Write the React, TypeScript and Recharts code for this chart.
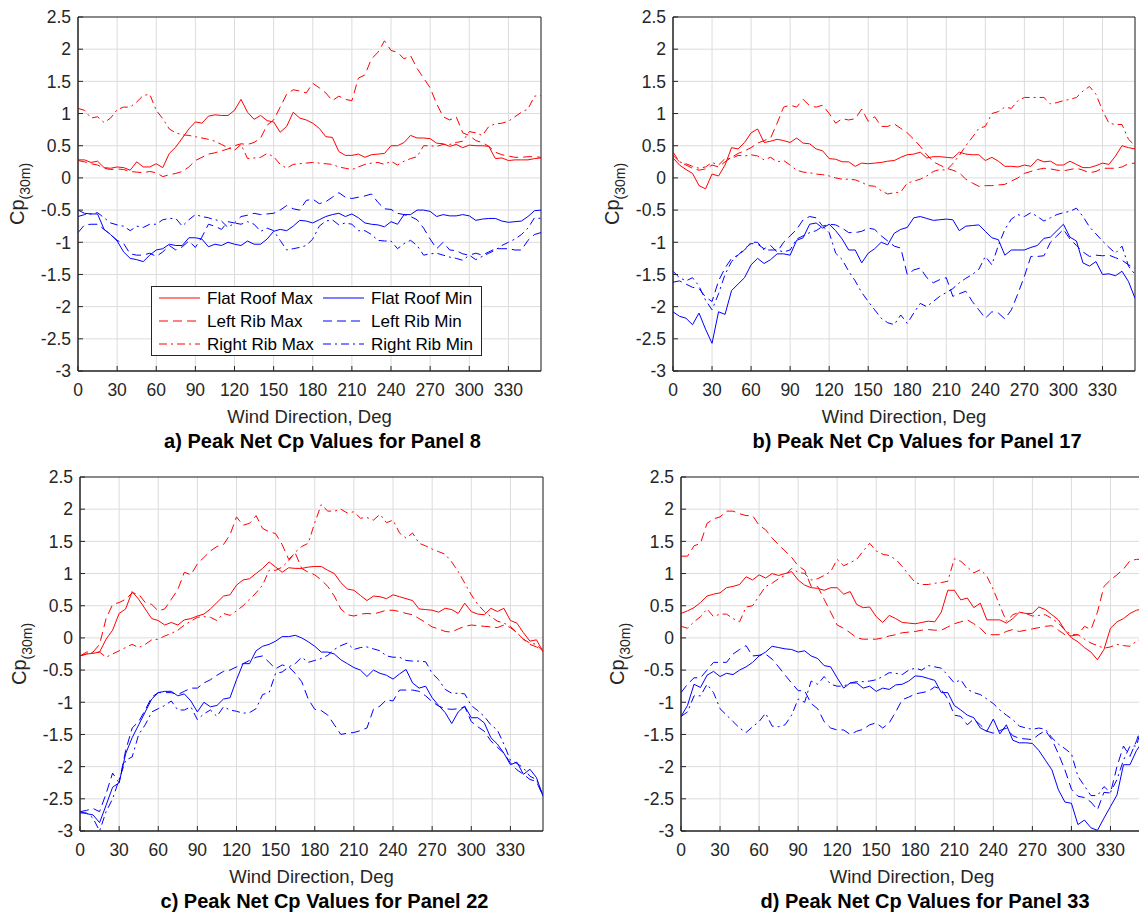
import React from 'react';
import { CartesianGrid, Line, LineChart, ReferenceArea, XAxis, YAxis } from 'recharts';

// wind directions, deg
const angles = [
	0, 5, 10, 15, 20, 25, 30, 35, 40, 45, 50, 55, 60, 65, 70, 75, 80, 85, 90, 95, 100, 105, 110, 115, 120, 125, 130,
	135, 140, 145, 150, 155, 160, 165, 170, 175, 180, 185, 190, 195, 200, 205, 210, 215, 220, 225, 230, 235, 240, 245,
	250, 255, 260, 265, 270, 275, 280, 285, 290, 295, 300, 305, 310, 315, 320, 325, 330, 335, 340, 345, 350, 355,
];
const xTicks = [0, 30, 60, 90, 120, 150, 180, 210, 240, 270, 300, 330];
const yTicks = [-3, -2.5, -2, -1.5, -1, -0.5, 0, 0.5, 1, 1.5, 2, 2.5];

// a) Panel 8
const aFlatMax = [
	0.28, 0.28, 0.24, 0.26, 0.16, 0.15, 0.17, 0.16, 0.12, 0.25, 0.17, 0.17,
	0.22, 0.16, 0.38, 0.48, 0.62, 0.76, 0.87, 0.85, 0.96, 0.98, 0.97, 0.97,
	1.05, 1.22, 1.02, 0.91, 0.97, 0.89, 0.87, 0.71, 0.8, 1.02, 0.93, 0.9,
	0.85, 0.77, 0.64, 0.63, 0.41, 0.35, 0.35, 0.37, 0.32, 0.36, 0.37, 0.38,
	0.5, 0.5, 0.55, 0.66, 0.62, 0.62, 0.61, 0.54, 0.53, 0.49, 0.52, 0.47,
	0.51, 0.5, 0.5, 0.49, 0.3, 0.31, 0.27, 0.28, 0.28, 0.28, 0.3, 0.31,
];
const aLeftMax = [
	0.27, 0.25, 0.22, 0.2, 0.15, 0.13, 0.14, 0.13, 0.1, 0.09, 0.08, 0.1,
	0.08, 0.02, 0.05, 0.07, 0.1, 0.17, 0.27, 0.32, 0.37, 0.39, 0.42, 0.45,
	0.5, 0.53, 0.52, 0.55, 0.62, 0.82, 0.9, 1.1, 1.3, 1.37, 1.35, 1.32,
	1.47, 1.4, 1.32, 1.2, 1.27, 1.22, 1.2, 1.55, 1.6, 1.85, 1.95, 2.13,
	1.98, 1.95, 1.85, 1.9, 1.7, 1.55, 1.4, 1.15, 0.95, 0.9, 0.95, 0.7,
	0.66, 0.58, 0.55, 0.49, 0.4, 0.36, 0.34, 0.32, 0.32, 0.33, 0.33, 0.32,
];
const aRightMax = [
	1.08, 1.05, 0.93, 0.95, 0.86, 0.93, 1.06, 1.1, 1.1, 1.18, 1.28, 1.3,
	1.05, 0.92, 0.76, 0.7, 0.67, 0.66, 0.64, 0.62, 0.6, 0.57, 0.52, 0.47,
	0.43, 0.52, 0.3, 0.31, 0.32, 0.38, 0.33, 0.21, 0.15, 0.21, 0.22, 0.23,
	0.24, 0.23, 0.22, 0.21, 0.17, 0.15, 0.13, 0.17, 0.21, 0.23, 0.24, 0.21,
	0.26, 0.2, 0.26, 0.3, 0.33, 0.5, 0.5, 0.49, 0.52, 0.52, 0.55, 0.57,
	0.72, 0.7, 0.66, 0.8, 0.84, 0.85, 0.88, 0.95, 1.02, 1.07, 1.27, 1.28,
];
const aFlatMin = [
	-0.5, -0.55, -0.56, -0.56, -0.8, -0.88, -0.98, -1.15, -1.25, -1.27, -1.3, -1.2,
	-1.12, -1.1, -1.03, -1.05, -1.05, -0.93, -0.93, -0.95, -1.07, -1.03, -1.05, -1.0,
	-1.03, -1.05, -0.98, -1.03, -1.03, -0.95, -0.83, -0.8, -0.82, -0.75, -0.66, -0.67,
	-0.7, -0.65, -0.6, -0.57, -0.55, -0.6, -0.56, -0.62, -0.7, -0.72, -0.73, -0.76,
	-0.68, -0.72, -0.57, -0.57, -0.5, -0.5, -0.52, -0.6, -0.57, -0.59, -0.59, -0.57,
	-0.59, -0.66, -0.64, -0.63, -0.63, -0.67, -0.69, -0.68, -0.67, -0.6, -0.51, -0.5,
];
const aLeftMin = [
	-0.85, -0.73, -0.72, -0.72, -0.8, -0.88, -0.97, -1.02, -1.18, -1.2, -1.2, -1.17,
	-1.22, -1.15, -1.05, -1.12, -1.07, -0.98, -1.08, -0.92, -0.72, -0.75, -0.8, -0.68,
	-0.7, -0.6, -0.58, -0.55, -0.57, -0.56, -0.55, -0.5, -0.43, -0.48, -0.5, -0.35,
	-0.33, -0.4, -0.37, -0.3, -0.23, -0.3, -0.32, -0.3, -0.28, -0.25, -0.38, -0.48,
	-0.49, -0.55, -0.57, -0.6, -0.65, -0.78, -0.95, -1.1, -1.0, -1.12, -1.13, -1.18,
	-1.2, -1.17, -1.2, -1.15, -1.1, -1.1, -1.1, -1.12, -1.12, -0.97, -0.88, -0.85,
];
const aRightMin = [
	-0.6, -0.57, -0.56, -0.54, -0.62, -0.7, -0.73, -0.75, -0.82, -0.75, -0.77, -0.72,
	-0.72, -0.65, -0.63, -0.63, -0.75, -0.65, -0.57, -0.6, -0.62, -0.65, -0.67, -0.77,
	-0.7, -0.72, -0.68, -0.72, -0.83, -0.78, -0.82, -0.97, -1.12, -1.1, -1.08, -1.05,
	-0.95, -0.75, -0.67, -0.65, -0.73, -0.7, -0.72, -0.82, -0.82, -0.88, -0.97, -0.98,
	-0.98, -1.1, -1.02, -0.97, -1.05, -1.2, -1.18, -1.17, -1.2, -1.23, -1.25, -1.28,
	-1.2, -1.27, -1.22, -1.17, -1.12, -1.05, -1.0, -0.95, -0.88, -0.78, -0.62, -0.63,
];

// b) Panel 17
const bFlatMax = [
	0.31, 0.2, 0.13, 0.07, -0.12, -0.17, 0.06, 0.03, 0.2, 0.47, 0.45, 0.55,
	0.7, 0.76, 0.55, 0.57, 0.6, 0.58, 0.55, 0.62, 0.54, 0.53, 0.45, 0.42,
	0.3, 0.29, 0.25, 0.25, 0.18, 0.23, 0.22, 0.23, 0.24, 0.26, 0.27, 0.32,
	0.36, 0.37, 0.4, 0.31, 0.33, 0.33, 0.32, 0.31, 0.4, 0.37, 0.36, 0.36,
	0.27, 0.32, 0.26, 0.18, 0.18, 0.17, 0.2, 0.18, 0.29, 0.25, 0.26, 0.2,
	0.2, 0.26, 0.21, 0.16, 0.16, 0.19, 0.23, 0.21, 0.34, 0.5, 0.47, 0.45,
];
const bLeftMax = [
	0.35, 0.25, 0.2, 0.15, 0.12, 0.14, 0.2, 0.17, 0.25, 0.32, 0.38, 0.42,
	0.47, 0.54, 0.58, 0.62, 0.85, 1.1, 1.13, 1.1, 1.22, 1.12, 1.1, 1.13,
	1.0, 0.85, 0.92, 0.9, 0.92, 1.07, 0.88, 0.95, 0.8, 0.8, 0.84, 0.77,
	0.7, 0.6, 0.49, 0.36, 0.25, 0.2, 0.15, 0.12, 0.08, -0.02, -0.08, -0.13,
	-0.12, -0.12, -0.11, -0.1, -0.05, 0.0, 0.07, 0.1, 0.13, 0.15, 0.14, 0.12,
	0.11, 0.13, 0.15, 0.12, 0.08, 0.1, 0.15, 0.15, 0.15, 0.17, 0.22, 0.23,
];
const bRightMax = [
	0.4, 0.25, 0.22, 0.18, 0.15, 0.17, 0.24, 0.2, 0.3, 0.3, 0.35, 0.34,
	0.36, 0.34, 0.28, 0.32, 0.25, 0.27, 0.2, 0.12, 0.09, 0.08, 0.06, 0.05,
	0.03, 0.0, -0.02, -0.02, -0.03, -0.07, -0.12, -0.13, -0.2, -0.25, -0.23, -0.22,
	-0.08, -0.05, -0.02, 0.03, 0.1, 0.13, 0.12, 0.22, 0.35, 0.5, 0.63, 0.77,
	0.8, 1.0, 1.03, 1.1, 1.08, 1.2, 1.25, 1.25, 1.25, 1.25, 1.15, 1.17,
	1.2, 1.22, 1.25, 1.35, 1.42, 1.3, 1.05, 0.85, 0.83, 0.83, 0.6, 0.5,
];
const bFlatMin = [
	-2.08, -2.15, -2.18, -2.28, -2.1, -2.35, -2.57, -2.08, -2.12, -1.75, -1.65, -1.55,
	-1.35, -1.25, -1.33, -1.27, -1.18, -1.18, -1.2, -0.97, -0.93, -0.72, -0.7, -0.78,
	-0.72, -0.82, -0.95, -1.12, -1.12, -1.32, -1.17, -1.1, -1.0, -1.04, -0.86, -0.8,
	-0.77, -0.62, -0.6, -0.63, -0.66, -0.65, -0.64, -0.65, -0.82, -0.75, -0.74, -0.73,
	-0.83, -0.93, -0.96, -1.2, -1.12, -1.12, -1.12, -1.08, -1.05, -0.94, -0.92, -0.82,
	-0.72, -0.92, -0.98, -1.32, -1.37, -1.3, -1.5, -1.49, -1.52, -1.45, -1.61, -1.87,
];
const bLeftMin = [
	-1.62, -1.6, -1.65, -1.7, -1.72, -1.85, -1.92, -1.6, -1.4, -1.25, -1.2, -1.1,
	-1.02, -1.03, -1.1, -1.05, -1.15, -1.0, -0.9, -0.8, -0.65, -0.6, -0.62, -0.75,
	-0.72, -0.73, -0.78, -0.85, -0.85, -0.83, -0.78, -0.8, -0.9, -0.98, -1.06, -1.09,
	-1.5, -1.43, -1.4, -1.55, -1.63, -1.58, -1.55, -1.84, -1.8, -1.76, -1.92, -2.05,
	-2.18, -2.08, -2.1, -2.19, -2.05, -1.8, -1.53, -1.22, -1.22, -1.21, -1.0, -0.9,
	-0.8, -0.95, -1.05, -1.15, -1.22, -1.2, -1.21, -1.2, -1.24, -1.28, -1.35, -1.4,
];
const bRightMin = [
	-1.45, -1.55, -1.6, -1.55, -1.68, -1.9, -2.05, -1.8, -1.5, -1.3, -1.2, -1.12,
	-1.0, -1.0, -1.12, -1.12, -1.12, -1.15, -1.12, -0.95, -0.9, -0.85, -0.82, -0.75,
	-0.85, -1.17, -1.27, -1.45, -1.6, -1.78, -1.92, -2.05, -2.18, -2.25, -2.28, -2.13,
	-2.26, -2.1, -1.95, -2.0, -1.92, -1.84, -1.78, -1.72, -1.63, -1.56, -1.5, -1.42,
	-1.22, -1.35, -1.05, -0.8, -0.64, -0.57, -0.6, -0.54, -0.6, -0.67, -0.62, -0.57,
	-0.54, -0.52, -0.47, -0.6, -0.76, -0.87, -0.98, -1.08, -1.17, -1.06, -1.37, -1.5,
];

// c) Panel 22
const cFlatMax = [
	-0.28, -0.25, -0.24, -0.22, -0.02, 0.12, 0.38, 0.45, 0.72, 0.6, 0.45, 0.3,
	0.27, 0.2, 0.24, 0.2, 0.28, 0.3, 0.34, 0.37, 0.45, 0.55, 0.65, 0.67,
	0.82, 0.9, 0.92, 1.0, 1.08, 1.18, 1.1, 1.02, 1.09, 1.08, 1.08, 1.1,
	1.11, 1.11, 1.05, 1.0, 0.86, 0.76, 0.74, 0.66, 0.58, 0.65, 0.64, 0.61,
	0.67, 0.64, 0.61, 0.58, 0.45, 0.44, 0.43, 0.4, 0.46, 0.44, 0.38, 0.54,
	0.41, 0.37, 0.36, 0.46, 0.41, 0.46, 0.27, 0.23, 0.08, -0.05, -0.03, -0.21,
];
const cLeftMax = [
	-0.28, -0.22, -0.22, -0.1, 0.3, 0.52, 0.55, 0.6, 0.7, 0.68, 0.55, 0.52,
	0.42, 0.45, 0.6, 0.75, 1.02, 0.98, 1.15, 1.25, 1.35, 1.42, 1.45, 1.6,
	1.88, 1.75, 1.78, 1.9, 1.7, 1.65, 1.62, 1.45, 1.22, 1.32, 1.08, 1.02,
	0.98, 0.9, 0.8, 0.65, 0.45, 0.36, 0.34, 0.37, 0.38, 0.37, 0.4, 0.43,
	0.43, 0.41, 0.38, 0.36, 0.3, 0.24, 0.17, 0.14, 0.1, 0.09, 0.14, 0.18,
	0.2, 0.19, 0.18, 0.17, 0.16, 0.2, 0.16, 0.08, -0.02, -0.1, -0.14, -0.21,
];
const cRightMax = [
	-0.28, -0.25, -0.22, -0.22, -0.3, -0.25, -0.2, -0.15, -0.1, -0.15, -0.1, -0.03,
	-0.02, 0.03, 0.07, 0.12, 0.2, 0.26, 0.32, 0.33, 0.32, 0.27, 0.38, 0.35,
	0.42, 0.5, 0.6, 0.7, 0.82, 1.05, 1.05, 1.1, 1.2, 1.33, 1.42, 1.47,
	1.79, 2.07, 1.97, 1.97, 2.0, 1.94, 1.96, 1.86, 1.87, 1.83, 1.92, 1.79,
	1.83, 1.63, 1.55, 1.63, 1.47, 1.43, 1.38, 1.34, 1.3, 1.18, 1.03, 0.85,
	0.67, 0.52, 0.41, 0.33, 0.26, 0.23, 0.18, 0.08, -0.02, -0.08, -0.1, -0.21,
];
const cFlatMin = [
	-2.7, -2.73, -2.75, -2.87, -2.6, -2.32, -2.25, -1.8, -1.55, -1.35, -1.15, -0.95,
	-0.85, -0.83, -0.83, -0.9, -0.87, -0.98, -1.15, -1.0, -1.07, -1.05, -0.95, -0.93,
	-0.65, -0.4, -0.4, -0.2, -0.13, -0.1, -0.05, 0.02, 0.02, 0.04, 0.0, -0.06,
	-0.13, -0.22, -0.22, -0.25, -0.34, -0.4, -0.46, -0.5, -0.6, -0.5, -0.55, -0.58,
	-0.64, -0.56, -0.49, -0.7, -0.78, -0.75, -0.93, -1.05, -1.16, -1.33, -1.15, -1.06,
	-1.24, -1.24, -1.32, -1.55, -1.65, -1.79, -1.97, -1.93, -2.12, -2.04, -2.17, -2.46,
];
const cLeftMin = [
	-2.7, -2.68, -2.65, -2.7, -2.42, -2.1, -2.25, -1.75, -1.4, -1.3, -1.12, -0.92,
	-0.85, -0.85, -0.85, -0.88, -0.83, -0.78, -0.78, -0.7, -0.65, -0.58, -0.52, -0.5,
	-0.45, -0.4, -0.35, -0.3, -0.28, -0.38, -0.48, -0.42, -0.45, -0.55, -0.68, -0.95,
	-1.11, -1.13, -1.2, -1.35, -1.5, -1.48, -1.47, -1.44, -1.4, -1.11, -1.06, -0.96,
	-0.98, -0.81, -0.81, -0.81, -0.83, -0.9, -0.99, -1.06, -1.1, -1.11, -1.1, -1.07,
	-1.3, -1.38, -1.45, -1.6, -1.7, -1.79, -1.94, -2.05, -2.12, -2.2, -2.23, -2.46,
];
const cRightMin = [
	-2.72, -2.72, -2.8, -3.0, -2.7, -2.5, -2.2, -1.9, -1.85, -1.5, -1.35, -1.15,
	-1.1, -1.05, -0.98, -1.12, -1.12, -1.07, -1.27, -1.18, -1.12, -1.22, -1.07, -1.12,
	-1.14, -1.17, -1.16, -1.1, -0.88, -0.85, -0.55, -0.53, -0.45, -0.4, -0.3, -0.38,
	-0.35, -0.32, -0.27, -0.18, -0.12, -0.08, -0.18, -0.15, -0.14, -0.17, -0.2, -0.28,
	-0.3, -0.3, -0.35, -0.36, -0.36, -0.37, -0.55, -0.65, -0.8, -0.86, -0.86, -0.87,
	-1.05, -1.13, -1.22, -1.35, -1.43, -1.65, -1.9, -1.95, -2.02, -2.15, -2.2, -2.45,
];

// d) Panel 33
const dFlatMax = [
	0.38, 0.42, 0.47, 0.55, 0.65, 0.68, 0.7, 0.78, 0.8, 0.83, 0.95, 0.9,
	0.98, 0.93, 1.0, 0.97, 1.0, 1.03, 0.9, 0.82, 0.78, 0.77, 0.74, 0.78,
	0.78, 0.68, 0.72, 0.52, 0.47, 0.48, 0.33, 0.24, 0.35, 0.3, 0.24, 0.23,
	0.22, 0.24, 0.26, 0.25, 0.4, 0.74, 0.74, 0.59, 0.62, 0.47, 0.54, 0.28,
	0.28, 0.28, 0.23, 0.3, 0.4, 0.38, 0.38, 0.48, 0.44, 0.36, 0.28, 0.12,
	0.0, -0.06, -0.15, -0.22, -0.34, -0.18, 0.15, 0.25, 0.3, 0.38, 0.43, 0.45,
];
const dLeftMax = [
	1.27, 1.27, 1.43, 1.47, 1.78, 1.85, 1.88, 1.97, 1.97, 1.93, 1.9, 1.9,
	1.75, 1.68, 1.55, 1.45, 1.35, 1.25, 1.12, 1.05, 0.8, 0.8, 0.6, 0.4,
	0.2, 0.15, 0.08, 0.0, -0.02, -0.02, -0.02, 0.0, 0.03, 0.05, 0.08, 0.09,
	0.1, 0.12, 0.13, 0.12, 0.12, 0.17, 0.22, 0.25, 0.28, 0.22, 0.15, 0.05,
	0.05, 0.05, 0.1, 0.13, 0.1, 0.12, 0.14, 0.16, 0.18, 0.19, 0.12, 0.05,
	0.03, 0.05, 0.18, 0.13, 0.4, 0.8, 0.9, 0.98, 1.07, 1.2, 1.22, 1.22,
];
const dRightMax = [
	0.18, 0.15, 0.25, 0.33, 0.45, 0.33, 0.37, 0.37, 0.3, 0.25, 0.48, 0.5,
	0.65, 0.8, 0.85, 0.92, 0.97, 1.08, 1.02, 1.0, 0.9, 0.92, 0.97, 1.03,
	1.22, 1.12, 1.17, 1.22, 1.35, 1.47, 1.35, 1.3, 1.28, 1.22, 1.11, 0.98,
	0.86, 0.83, 0.83, 0.85, 0.86, 0.88, 1.23, 1.19, 1.1, 1.01, 1.06, 0.96,
	0.75, 0.5, 0.26, 0.36, 0.4, 0.38, 0.34, 0.35, 0.36, 0.3, 0.23, 0.12,
	0.05, 0.05, -0.02, -0.08, -0.12, -0.16, -0.14, -0.1, -0.12, -0.13, -0.05, 0.0,
];
const dFlatMin = [
	-1.22, -1.05, -0.72, -0.77, -0.58, -0.52, -0.6, -0.55, -0.57, -0.5, -0.45, -0.38,
	-0.28, -0.22, -0.13, -0.15, -0.17, -0.18, -0.22, -0.2, -0.28, -0.32, -0.43, -0.45,
	-0.62, -0.78, -0.7, -0.7, -0.78, -0.75, -0.83, -0.78, -0.8, -0.73, -0.72, -0.67,
	-0.59, -0.6, -0.63, -0.66, -0.85, -0.85, -1.05, -1.12, -1.2, -1.24, -1.4, -1.45,
	-1.26, -1.49, -1.35, -1.59, -1.63, -1.63, -1.64, -1.75, -1.9, -2.05, -2.36, -2.55,
	-2.57, -2.9, -2.83, -2.95, -2.99, -2.8, -2.62, -2.44, -1.97, -1.97, -1.75, -1.6,
];
const dLeftMin = [
	-0.85, -0.72, -0.62, -0.62, -0.5, -0.38, -0.38, -0.38, -0.25, -0.18, -0.12, -0.28,
	-0.27, -0.25, -0.33, -0.45, -0.58, -0.7, -0.82, -0.82, -1.02, -1.1, -1.3, -1.4,
	-1.43, -1.43, -1.5, -1.45, -1.42, -1.35, -1.32, -1.4, -1.32, -1.15, -0.96, -0.92,
	-0.87, -0.85, -0.83, -0.76, -0.8, -0.95, -1.2, -1.22, -1.35, -1.26, -1.35, -1.45,
	-1.48, -1.44, -1.4, -1.52, -1.56, -1.57, -1.58, -1.5, -1.44, -1.58, -1.8, -2.05,
	-2.35, -2.46, -2.48, -2.55, -2.67, -2.4, -2.41, -2.0, -1.68, -1.84, -1.6, -1.3,
];
const dRightMin = [
	-1.22, -1.15, -0.9, -0.9, -0.72, -0.85, -1.1, -1.2, -1.3, -1.4, -1.47, -1.38,
	-1.3, -1.17, -1.37, -1.38, -1.35, -1.2, -0.95, -1.0, -0.67, -0.72, -0.6, -0.72,
	-0.75, -0.75, -0.7, -0.68, -0.68, -0.67, -0.65, -0.6, -0.54, -0.55, -0.57, -0.5,
	-0.47, -0.5, -0.43, -0.45, -0.47, -0.58, -0.7, -0.65, -0.8, -0.85, -0.88, -0.95,
	-1.02, -1.12, -1.2, -1.27, -1.37, -1.4, -1.42, -1.4, -1.42, -1.55, -1.65, -1.72,
	-1.8, -2.15, -2.3, -2.45, -2.45, -2.31, -2.4, -2.2, -1.9, -1.68, -1.68, -1.3,
];

const FONT = '"Liberation Sans", Arial, Helvetica, sans-serif';
const AXIS = '#262626';
const RED = '#ff0000';
const BLUE = '#0000ff';
const DASH = '9 5';
const DASHDOT = '8 4 2 4';

const SERIES = [
	{ key: 'flatMax', name: 'Flat Roof Max', color: RED, dash: undefined },
	{ key: 'leftMax', name: 'Left Rib Max', color: RED, dash: DASH },
	{ key: 'rightMax', name: 'Right Rib Max', color: RED, dash: DASHDOT },
	{ key: 'flatMin', name: 'Flat Roof Min', color: BLUE, dash: undefined },
	{ key: 'leftMin', name: 'Left Rib Min', color: BLUE, dash: DASH },
	{ key: 'rightMin', name: 'Right Rib Min', color: BLUE, dash: DASHDOT },
];

const PANELS = [
	{ title: 'a) Peak Net Cp Values for Panel 8', left: 78, top: 17, w: 463, labX: 24, series: [aFlatMax, aLeftMax, aRightMax, aFlatMin, aLeftMin, aRightMin] },
	{ title: 'b) Peak Net Cp Values for Panel 17', left: 673, top: 17, w: 462, labX: 619, series: [bFlatMax, bLeftMax, bRightMax, bFlatMin, bLeftMin, bRightMin] },
	{ title: 'c) Peak Net Cp Values for Panel 22', left: 80, top: 477, w: 463, labX: 26, series: [cFlatMax, cLeftMax, cRightMax, cFlatMin, cLeftMin, cRightMin] },
	{ title: 'd) Peak Net Cp Values for Panel 33', left: 681, top: 477, w: 462, labX: 624, series: [dFlatMax, dLeftMax, dRightMax, dFlatMin, dLeftMin, dRightMin] },
];

const PLOT_H = 354;
const Y_W = 60;
const X_H = 32;
const PAD_T = 14;
const PAD_R = 5;

function buildRows(series: number[][]) {
	return angles.map((angle, i) => {
		const row: Record<string, number> = { angle };
		SERIES.forEach((s, j) => {
			row[s.key] = series[j][i];
		});
		return row;
	});
}

const XTick = ({ x, y, payload }: any) => (
	<text x={x} y={y} dy="0.71em" textAnchor="middle" fill={AXIS} fontSize={17.5} fontFamily={FONT}>
		{payload.value}
	</text>
);

const YTick = ({ x, y, payload }: any) => (
	<text x={x} y={y} dy="0.36em" textAnchor="end" fill={AXIS} fontSize={17.5} fontFamily={FONT}>
		{payload.value}
	</text>
);

const NoTick = () => <g />;

function Panel({ panel }: { panel: (typeof PANELS)[number] }) {
	const rows = buildRows(panel.series);
	return (
		<div style={{ position: 'absolute', left: panel.left - Y_W, top: panel.top - PAD_T }}>
			<LineChart
				width={Y_W + panel.w + PAD_R}
				height={PAD_T + PLOT_H + X_H}
				data={rows}
				margin={{ top: PAD_T, right: PAD_R, bottom: 0, left: 0 }}
			>
				<CartesianGrid stroke="#dcdcdc" strokeWidth={1} />
				<XAxis
					dataKey="angle"
					type="number"
					domain={[0, 355]}
					ticks={xTicks}
					interval={0}
					height={X_H}
					allowDataOverflow
					stroke={AXIS}
					tickSize={-5}
					tickMargin={18}
					tick={XTick}
				/>
				<XAxis
					xAxisId="top"
					orientation="top"
					type="number"
					domain={[0, 355]}
					ticks={xTicks}
					interval={0}
					height={0}
					allowDataOverflow
					stroke={AXIS}
					tickSize={-5}
					tick={NoTick}
				/>
				<YAxis
					type="number"
					domain={[-3, 2.5]}
					ticks={yTicks}
					interval={0}
					width={Y_W}
					allowDataOverflow
					stroke={AXIS}
					tickSize={-5}
					tickMargin={12}
					tick={YTick}
				/>
				<YAxis
					yAxisId="right"
					orientation="right"
					type="number"
					domain={[-3, 2.5]}
					ticks={yTicks}
					interval={0}
					width={0}
					allowDataOverflow
					stroke={AXIS}
					tickSize={-5}
					tick={NoTick}
				/>
				{SERIES.map((s) => (
					<Line
						key={s.key}
						type="linear"
						dataKey={s.key}
						name={s.name}
						stroke={s.color}
						strokeWidth={1}
						strokeDasharray={s.dash}
						dot={false}
						activeDot={false}
						isAnimationActive={false}
					/>
				))}
				<ReferenceArea x1={0} x2={355} y1={-3} y2={2.5} fill="none" stroke={AXIS} strokeWidth={1} ifOverflow="visible" />
			</LineChart>
		</div>
	);
}

// texts drawn on top of the four charts
function Overlay() {
	return (
		<svg width={1139} height={915} style={{ position: 'absolute', left: 0, top: 0, pointerEvents: 'none' }} fontFamily={FONT}>
			{PANELS.map((p) => {
				const cx = p.left + p.w / 2;
				const bottom = p.top + PLOT_H;
				const cy = p.top + PLOT_H / 2;
				return (
					<g key={p.title}>
						<text transform={`translate(${p.labX},${cy}) rotate(-90)`} textAnchor="middle" fill={AXIS} fontSize={20}>
							Cp
							<tspan fontSize={14} dy={6}>
								(30m)
							</tspan>
						</text>
						<text x={cx} y={bottom + 52} textAnchor="middle" fill={AXIS} fontSize={18.5}>
							Wind Direction, Deg
						</text>
						<text x={cx + 13} y={bottom + 77} textAnchor="middle" fill="#000" fontSize={20} fontWeight="bold">
							{p.title}
						</text>
					</g>
				);
			})}
			<g transform="translate(151,286)">
				<rect x={0.5} y={0.5} width={330} height={69} fill="#fff" stroke={AXIS} strokeWidth={1} />
				{SERIES.map((s, i) => {
					const col = i < 3 ? 0 : 1;
					const row = i % 3;
					const x0 = col === 0 ? 8 : 172;
					const y = 12 + row * 23;
					return (
						<g key={s.key}>
							<line x1={x0} x2={x0 + 41} y1={y} y2={y} stroke={s.color} strokeWidth={1} strokeDasharray={s.dash} />
							<text x={x0 + 48} y={y + 6} fontSize={17} fill="#000">
								{s.name}
							</text>
						</g>
					);
				})}
			</g>
		</svg>
	);
}

export default function App() {
	return (
		<div
			style={{
				position: 'absolute',
				left: 0,
				top: 0,
				width: 1139,
				height: 915,
				overflow: 'hidden',
				background: '#fff',
			}}
		>
			{PANELS.map((p) => (
				<Panel key={p.title} panel={p} />
			))}
			<Overlay />
		</div>
	);
}
